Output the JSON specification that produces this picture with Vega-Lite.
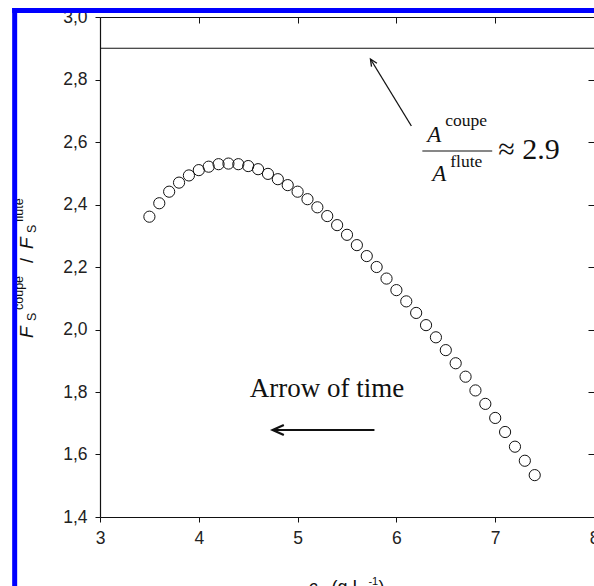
{
  "$schema": "https://vega.github.io/schema/vega-lite/v6.json",
  "width": 494,
  "height": 500,
  "autosize": {"type": "none"},
  "padding": {"left": 100, "top": 17, "right": 0, "bottom": 69},
  "background": "white",
  "config": {"view": {"stroke": null}},
  "resolve": {"axis": {"x": "independent", "y": "independent"}},
  "datasets": {
    "pts": [
      {"x": 3.5, "y": 2.361}, {"x": 3.6, "y": 2.404}, {"x": 3.7, "y": 2.441}, {"x": 3.8, "y": 2.47},
      {"x": 3.9, "y": 2.493}, {"x": 4.0, "y": 2.51}, {"x": 4.1, "y": 2.521}, {"x": 4.2, "y": 2.529},
      {"x": 4.3, "y": 2.531}, {"x": 4.4, "y": 2.529}, {"x": 4.5, "y": 2.523}, {"x": 4.6, "y": 2.513},
      {"x": 4.7, "y": 2.498}, {"x": 4.8, "y": 2.481}, {"x": 4.9, "y": 2.462}, {"x": 5.0, "y": 2.441},
      {"x": 5.1, "y": 2.417}, {"x": 5.2, "y": 2.391}, {"x": 5.3, "y": 2.363}, {"x": 5.4, "y": 2.334},
      {"x": 5.5, "y": 2.303}, {"x": 5.6, "y": 2.27}, {"x": 5.7, "y": 2.235}, {"x": 5.8, "y": 2.2},
      {"x": 5.9, "y": 2.163}, {"x": 6.0, "y": 2.126}, {"x": 6.1, "y": 2.09}, {"x": 6.2, "y": 2.053},
      {"x": 6.3, "y": 2.014}, {"x": 6.4, "y": 1.975}, {"x": 6.5, "y": 1.934}, {"x": 6.6, "y": 1.892},
      {"x": 6.7, "y": 1.849}, {"x": 6.8, "y": 1.805}, {"x": 6.9, "y": 1.762}, {"x": 7.0, "y": 1.717},
      {"x": 7.1, "y": 1.672}, {"x": 7.2, "y": 1.625}, {"x": 7.3, "y": 1.58}, {"x": 7.4, "y": 1.534}
    ],
    "ytF": [{"x": 2.3232, "y": 1.9728, "t": "F"}, {"x": 2.3232, "y": 2.2576, "t": "F"}],
    "ytS": [{"x": 2.3485, "y": 2.0272, "t": "S"}, {"x": 2.3485, "y": 2.3088, "t": "S"}],
    "ytSup": [{"x": 2.2222, "y": 2.0624, "t": "coupe"}, {"x": 2.2222, "y": 2.344, "t": "flute"}],
    "ytSlash": [{"x": 2.3232, "y": 2.2128, "t": "/"}],
    "xtItal": [{"x": 5.111, "y": 1.157, "t": "c,"}],
    "xtMain": [{"x": 5.343, "y": 1.157, "t": "(g L"}, {"x": 5.818, "y": 1.157, "t": ")"}],
    "xtSup": [{"x": 5.717, "y": 1.1824, "t": "-1"}],
    "fracA": [{"x": 6.3131, "y": 2.6, "t": "A"}, {"x": 6.3636, "y": 2.4752, "t": "A"}],
    "fracSup": [{"x": 6.4949, "y": 2.6512, "t": "coupe"}, {"x": 6.5455, "y": 2.52, "t": "flute"}],
    "fracLine": [{"x": 6.2626, "x2": 6.9697, "y": 2.5712}],
    "approx": [{"x": 7.0303, "y": 2.5456, "t": "≈ 2.9"}],
    "arrowText": [{"x": 4.5152, "y": 1.784, "t": "Arrow of time"}],
    "hArrow": [{"x": 4.7475, "x2": 5.7778, "y": 1.6784}],
    "dArrow": [{"x": 6.1515, "y": 2.6512, "x2": 5.7374, "y2": 2.8656}],
    "dHead": [{"x": 5.7374, "y": 2.8656}],
    "blueV": [{"x": 2.1364, "y": 3.0288, "y2": 1.1}],
    "blueH": [{"x": 2.1111, "x2": 8.1, "y": 3.0208}]
  },
  "layer": [
    {
      "data": {"values": [{}]},
      "mark": {"type": "rule", "color": "#111", "strokeWidth": 1.2},
      "encoding": {
        "y": {"datum": 2.9, "type": "quantitative", "scale": {"domain": [1.4, 3.0], "nice": false, "zero": false}, "axis": null}
      }
    },
    {
      "data": {"name": "pts"},
      "mark": {"type": "point", "opacity": 0},
      "encoding": {
        "x": {"field": "x", "type": "quantitative", "scale": {"domain": [3, 8], "nice": false, "zero": false},
          "axis": {"orient": "top", "values": [3, 4, 5, 6, 7, 8], "tickSize": -6, "labels": false, "title": null, "grid": false, "domainColor": "#111", "tickColor": "#111", "domainWidth": 1.2}},
        "y": {"field": "y", "type": "quantitative", "scale": {"domain": [1.4, 3.0], "nice": false, "zero": false},
          "axis": {"orient": "right", "values": [1.4, 1.6, 1.8, 2.0, 2.2, 2.4, 2.6, 2.8, 3.0], "tickSize": -6, "labels": false, "title": null, "grid": false, "domainColor": "#111", "tickColor": "#111"}}
      }
    },
    {
      "data": {"name": "pts"},
      "mark": {"type": "point", "shape": "circle", "size": 125, "filled": false, "stroke": "#111", "strokeWidth": 1, "opacity": 1},
      "encoding": {
        "x": {"field": "x", "type": "quantitative", "scale": {"domain": [3, 8], "nice": false, "zero": false},
          "axis": {"orient": "bottom", "values": [3, 4, 5, 6, 7, 8], "tickSize": 5, "labelPadding": 7, "title": null, "grid": false, "labelFlush": false, "labelOverlap": false,
            "domainColor": "#111", "tickColor": "#111", "domainWidth": 1.2, "labelFont": "Liberation Sans", "labelFontSize": 17.5, "labelColor": "#222"}},
        "y": {"field": "y", "type": "quantitative", "scale": {"domain": [1.4, 3.0], "nice": false, "zero": false},
          "axis": {"orient": "left", "values": [1.4, 1.6, 1.8, 2.0, 2.2, 2.4, 2.6, 2.8, 3.0], "labelExpr": "replace(format(datum.value, '.1f'), '.', ',')",
            "tickSize": 5, "labelPadding": 8, "title": null, "grid": false, "labelFlush": false, "labelOverlap": false,
            "domainColor": "#111", "tickColor": "#111", "domainWidth": 1.2, "labelFont": "Liberation Sans", "labelFontSize": 17.5, "labelColor": "#222"}}
      }
    },
    {
      "data": {"name": "ytF"},
      "mark": {"type": "text", "angle": 270, "align": "left", "baseline": "alphabetic", "font": "Liberation Sans", "fontStyle": "italic", "fontSize": 19, "color": "#111"},
      "encoding": {"x": {"field": "x", "type": "quantitative", "axis": null}, "y": {"field": "y", "type": "quantitative", "axis": null}, "text": {"field": "t"}}
    },
    {
      "data": {"name": "ytS"},
      "mark": {"type": "text", "angle": 270, "align": "left", "baseline": "alphabetic", "font": "Liberation Sans", "fontSize": 12.5, "color": "#111"},
      "encoding": {"x": {"field": "x", "type": "quantitative", "axis": null}, "y": {"field": "y", "type": "quantitative", "axis": null}, "text": {"field": "t"}}
    },
    {
      "data": {"name": "ytSup"},
      "mark": {"type": "text", "angle": 270, "align": "left", "baseline": "alphabetic", "font": "Liberation Sans", "fontSize": 12.5, "color": "#111"},
      "encoding": {"x": {"field": "x", "type": "quantitative", "axis": null}, "y": {"field": "y", "type": "quantitative", "axis": null}, "text": {"field": "t"}}
    },
    {
      "data": {"name": "ytSlash"},
      "mark": {"type": "text", "angle": 270, "align": "left", "baseline": "alphabetic", "font": "Liberation Sans", "fontSize": 18, "color": "#111"},
      "encoding": {"x": {"field": "x", "type": "quantitative", "axis": null}, "y": {"field": "y", "type": "quantitative", "axis": null}, "text": {"field": "t"}}
    },
    {
      "data": {"name": "xtItal"},
      "mark": {"type": "text", "align": "left", "baseline": "alphabetic", "font": "Liberation Sans", "fontStyle": "italic", "fontSize": 18, "color": "#111"},
      "encoding": {"x": {"field": "x", "type": "quantitative", "axis": null}, "y": {"field": "y", "type": "quantitative", "axis": null}, "text": {"field": "t"}}
    },
    {
      "data": {"name": "xtMain"},
      "mark": {"type": "text", "align": "left", "baseline": "alphabetic", "font": "Liberation Sans", "fontSize": 18, "color": "#111"},
      "encoding": {"x": {"field": "x", "type": "quantitative", "axis": null}, "y": {"field": "y", "type": "quantitative", "axis": null}, "text": {"field": "t"}}
    },
    {
      "data": {"name": "xtSup"},
      "mark": {"type": "text", "align": "left", "baseline": "alphabetic", "font": "Liberation Sans", "fontSize": 11, "color": "#111"},
      "encoding": {"x": {"field": "x", "type": "quantitative", "axis": null}, "y": {"field": "y", "type": "quantitative", "axis": null}, "text": {"field": "t"}}
    },
    {
      "data": {"name": "fracA"},
      "mark": {"type": "text", "align": "left", "baseline": "alphabetic", "font": "Liberation Serif", "fontStyle": "italic", "fontSize": 23, "color": "#111"},
      "encoding": {"x": {"field": "x", "type": "quantitative", "axis": null}, "y": {"field": "y", "type": "quantitative", "axis": null}, "text": {"field": "t"}}
    },
    {
      "data": {"name": "fracSup"},
      "mark": {"type": "text", "align": "left", "baseline": "alphabetic", "font": "Liberation Serif", "fontSize": 17.5, "color": "#111"},
      "encoding": {"x": {"field": "x", "type": "quantitative", "axis": null}, "y": {"field": "y", "type": "quantitative", "axis": null}, "text": {"field": "t"}}
    },
    {
      "data": {"name": "fracLine"},
      "mark": {"type": "rule", "color": "#111", "strokeWidth": 1.2},
      "encoding": {"x": {"field": "x", "type": "quantitative", "axis": null}, "x2": {"field": "x2"}, "y": {"field": "y", "type": "quantitative", "axis": null}}
    },
    {
      "data": {"name": "approx"},
      "mark": {"type": "text", "align": "left", "baseline": "alphabetic", "font": "Liberation Serif", "fontSize": 30, "color": "#111"},
      "encoding": {"x": {"field": "x", "type": "quantitative", "axis": null}, "y": {"field": "y", "type": "quantitative", "axis": null}, "text": {"field": "t"}}
    },
    {
      "data": {"name": "arrowText"},
      "mark": {"type": "text", "align": "left", "baseline": "alphabetic", "font": "Liberation Serif", "fontSize": 27, "color": "#111"},
      "encoding": {"x": {"field": "x", "type": "quantitative", "axis": null}, "y": {"field": "y", "type": "quantitative", "axis": null}, "text": {"field": "t"}}
    },
    {
      "data": {"name": "hArrow"},
      "mark": {"type": "rule", "color": "#111", "strokeWidth": 2.2},
      "encoding": {"x": {"field": "x", "type": "quantitative", "axis": null}, "x2": {"field": "x2"}, "y": {"field": "y", "type": "quantitative", "axis": null}}
    },
    {
      "data": {"name": "hArrow"},
      "mark": {"type": "point", "shape": "M1,-0.45L0,0L1,0.45", "size": 500, "filled": false, "stroke": "#111", "strokeWidth": 2.2, "opacity": 1, "angle": 0},
      "encoding": {"x": {"field": "x", "type": "quantitative", "axis": null}, "y": {"field": "y", "type": "quantitative", "axis": null}}
    },
    {
      "data": {"name": "dArrow"},
      "mark": {"type": "rule", "color": "#111", "strokeWidth": 1.3},
      "encoding": {"x": {"field": "x", "type": "quantitative", "axis": null}, "x2": {"field": "x2"}, "y": {"field": "y", "type": "quantitative", "axis": null}, "y2": {"field": "y2"}}
    },
    {
      "data": {"name": "dHead"},
      "mark": {"type": "point", "shape": "M1,-0.45L0,0L1,0.45", "size": 200, "filled": false, "stroke": "#111", "strokeWidth": 1.3, "opacity": 1, "angle": 58},
      "encoding": {"x": {"field": "x", "type": "quantitative", "axis": null}, "y": {"field": "y", "type": "quantitative", "axis": null}}
    },
    {
      "data": {"name": "blueV"},
      "mark": {"type": "rule", "color": "#0000ff", "strokeWidth": 5},
      "encoding": {"x": {"field": "x", "type": "quantitative", "axis": null}, "y": {"field": "y", "type": "quantitative", "axis": null}, "y2": {"field": "y2"}}
    },
    {
      "data": {"name": "blueH"},
      "mark": {"type": "rule", "color": "#0000ff", "strokeWidth": 5},
      "encoding": {"x": {"field": "x", "type": "quantitative", "axis": null}, "x2": {"field": "x2"}, "y": {"field": "y", "type": "quantitative", "axis": null}}
    }
  ]
}
